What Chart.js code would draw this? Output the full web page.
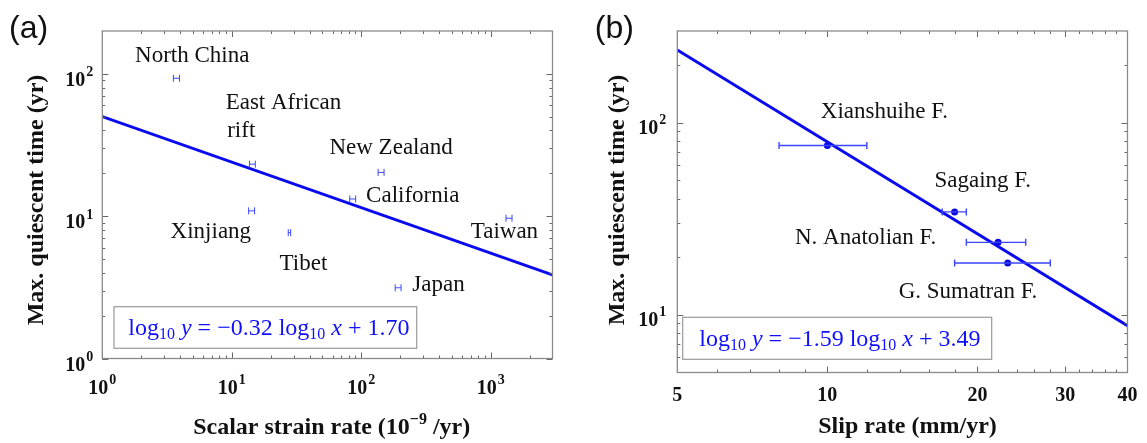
<!DOCTYPE html>
<html>
<head>
<meta charset="utf-8">
<script src="https://cdn.jsdelivr.net/npm/chart.js@4.4.1/dist/chart.umd.min.js"></script>
<style>
  body { margin: 0; background: #fff; }
  .panel { position: absolute; top: 0; }
  #wrapA { left: 0; width: 570px; height: 443px; }
  #wrapB { left: 570px; width: 577px; height: 443px; }
</style>
</head>
<body>
<div class="panel" id="wrapA"><canvas id="chartA" width="570" height="443"></canvas></div>
<div class="panel" id="wrapB"><canvas id="chartB" width="577" height="443"></canvas></div>
<script>
// ── (a) regions: strain rate vs max. quiescent time ──────────────────────
const regionNames = ['North China', 'East African rift', 'New Zealand', 'California', 'Xinjiang', 'Tibet', 'Taiwan', 'Japan'];
const strainRate  = [3.74, 14.4, 142, 85.9, 14.2, 27.9, 1384, 193];
const strainLo    = [3.54, 13.7, 135, 81.5, 13.5, 27.3, 1312, 183];
const strainHi    = [3.95, 15.2, 150, 90.5, 15.0, 28.5, 1460, 203];
const quietA      = [93.1, 23.2, 20.3, 13.2, 10.9, 7.66, 9.67, 3.14];
const fitA        = { slope: -0.32, icpt: 1.70 };
const aXRange = [1, 3000];
const aYRange = [1, 200];
const aXTicks = [1, 10, 100, 1000];
const aXTickExp = ['0', '1', '2', '3'];
const aYTicks = [1, 10, 100];
const aYTickExp = ['0', '1', '2'];

// ── (b) faults: slip rate vs max. quiescent time ─────────────────────────
const faultNames = ['Xianshuihe F.', 'Sagaing F.', 'N. Anatolian F.', 'G. Sumatran F.'];
const slipRate   = [10, 18.0, 22.0, 23.0];
const slipLo     = [8, 17, 19, 18];
const slipHi     = [12, 19, 25, 28];
const quietB     = [76, 34.3, 23.8, 18.6];
const fitB       = { slope: -1.59, icpt: 3.49 };
const bXRange = [5, 40];
const bYRange = [5, 300];
const bXTicks = [5, 10, 20, 30, 40];
const bXTickText = ['5', '10', '20', '30', '40'];
const bYTicks = [10, 100];
const bYTickExp = ['1', '2'];

const SERIF = '"Liberation Serif", "Times New Roman", serif';
const SANS  = '"Liberation Sans", Arial, sans-serif';
const BLUE  = '#1010ff';

// label anchors (left edge, vertical middle) in axis units
const regionLabelPos = [[1.79, 133], [8.97, 62.1], [56.8, 30.0], [109, 13.9], [3.37, 7.70], [23.4, 4.59], [701, 7.78], [248, 3.29]];
const faultLabelPos  = [[9.70, 114], [16.4, 49.7], [8.61, 25.0], [13.9, 13.2]];

function fitPoints(fit, xr) {
  return xr.map(x => ({ x, y: Math.pow(10, fit.icpt + fit.slope * Math.log10(x)) }));
}

function minorTicks(lo, hi, steps) {
  const out = [];
  for (let d = Math.pow(10, Math.floor(Math.log10(lo))); d <= hi; d *= 10) {
    steps.forEach(m => { const v = m * d; if (v > lo && v < hi) out.push(v); });
  }
  return out;
}

// "10" with a raised exponent
function drawPow(ctx, x, y, exp, align) {
  const big = `bold 20px ${SERIF}`, small = `bold 14px ${SERIF}`;
  ctx.font = big;   const wb = ctx.measureText('10').width;
  ctx.font = small; const we = ctx.measureText(exp).width;
  const w = wb + 1 + we;
  const x0 = align === 'center' ? x - w / 2 : x - w;
  ctx.textAlign = 'left';
  ctx.textBaseline = 'middle';
  ctx.font = big;   ctx.fillText('10', x0, y);
  ctx.font = small; ctx.fillText(exp, x0 + wb + 1, y - 8);
}

// consecutive text pieces, each with its own font and vertical shift
function drawRuns(ctx, x, y, runs, align) {
  ctx.textBaseline = 'middle';
  ctx.textAlign = 'left';
  const widths = runs.map(r => { ctx.font = r.font; return ctx.measureText(r.t).width; });
  const total = widths.reduce((s, w) => s + w, 0);
  let cx = align === 'center' ? x - total / 2 : x;
  runs.forEach((r, i) => {
    ctx.font = r.font;
    ctx.fillText(r.t, cx, y + (r.dy || 0));
    cx += widths[i];
  });
}

function eqRuns(fit) {
  const reg = `24px ${SERIF}`, it = `italic 24px ${SERIF}`, sub = `16px ${SERIF}`;
  const sign = fit.slope < 0 ? '\u2212' : '';
  return [
    { t: 'log', font: reg }, { t: '10', font: sub, dy: 6 }, { t: ' ', font: reg },
    { t: 'y', font: it }, { t: ' = ' + sign + Math.abs(fit.slope).toFixed(2) + ' log', font: reg },
    { t: '10', font: sub, dy: 6 }, { t: ' ', font: reg }, { t: 'x', font: it },
    { t: ' + ' + fit.icpt.toFixed(2), font: reg },
  ];
}

// horizontal error bars with small caps
const errorBarPlugin = {
  id: 'errorBars',
  afterDatasetsDraw(chart, args, o) {
    const { ctx, scales: { x, y } } = chart;
    ctx.save();
    ctx.strokeStyle = o.color;
    ctx.lineWidth = o.width;
    o.lo.forEach((lo, i) => {
      const py = y.getPixelForValue(o.yv[i]);
      const x1 = x.getPixelForValue(lo), x2 = x.getPixelForValue(o.hi[i]);
      ctx.beginPath();
      ctx.moveTo(x1, py); ctx.lineTo(x2, py);
      ctx.moveTo(x1, py - o.cap); ctx.lineTo(x1, py + o.cap);
      ctx.moveTo(x2, py - o.cap); ctx.lineTo(x2, py + o.cap);
      ctx.stroke();
    });
    ctx.restore();
  },
};

// box frame, inward ticks on all sides, tick labels, titles, annotations
const framePlugin = {
  id: 'frame',
  afterDraw(chart, args, o) {
    const { ctx, chartArea: a, scales: { x, y } } = chart;
    ctx.save();
    const seg = (x1, y1, x2, y2) => { ctx.beginPath(); ctx.moveTo(x1, y1); ctx.lineTo(x2, y2); ctx.stroke(); };
    ctx.strokeStyle = '#666';
    ctx.lineWidth = 1;
    const xt = (v, len) => { const p = Math.round(x.getPixelForValue(v)) + 0.5; seg(p, a.bottom, p, a.bottom - len); seg(p, a.top, p, a.top + len); };
    const yt = (v, len) => { const p = Math.round(y.getPixelForValue(v)) + 0.5; seg(a.left, p, a.left + len, p); seg(a.right, p, a.right - len, p); };
    o.xMinor.forEach(v => xt(v, 3));
    o.xMajor.forEach(v => xt(v, 6));
    o.yMinor.forEach(v => yt(v, 3));
    o.yMajor.forEach(v => yt(v, 6));
    ctx.strokeStyle = '#8a8a8a';
    ctx.lineWidth = 1.3;
    ctx.strokeRect(a.left, a.top, a.right - a.left, a.bottom - a.top);

    // equation box
    const b = o.eqBox;
    ctx.fillStyle = '#fff';
    ctx.fillRect(b[0], b[1], b[2] - b[0], b[3] - b[1]);
    ctx.strokeStyle = '#999';
    ctx.lineWidth = 1.2;
    ctx.strokeRect(b[0], b[1], b[2] - b[0], b[3] - b[1]);
    ctx.fillStyle = BLUE;
    drawRuns(ctx, o.eqText[0], o.eqText[1], eqRuns(o.fit), 'left');

    // tick labels
    ctx.fillStyle = '#111';
    o.xLabels(ctx, x, a);
    o.yLabels(ctx, y, a);

    // axis titles
    drawRuns(ctx, o.xTitle[0], o.xTitle[1], o.xTitleRuns, 'center');
    ctx.save();
    ctx.translate(o.yTitle[0], o.yTitle[1]);
    ctx.rotate(-Math.PI / 2);
    drawRuns(ctx, 0, 0, [{ t: 'Max. quiescent time (yr)', font: `bold 24px ${SERIF}` }], 'center');
    ctx.restore();

    // point names
    ctx.font = `23px ${SERIF}`;
    ctx.textAlign = 'left';
    ctx.textBaseline = 'middle';
    o.names.forEach(n => ctx.fillText(n.t, x.getPixelForValue(n.x), y.getPixelForValue(n.y)));

    // panel letter
    ctx.font = `32px ${SANS}`;
    ctx.fillText(o.letter[0], o.letter[1], o.letter[2]);
    ctx.restore();
  },
};

function makeChart(id, cfg) {
  return new Chart(document.getElementById(id), {
    type: 'scatter',
    data: { datasets: cfg.datasets },
    options: {
      responsive: false,
      animation: false,
      devicePixelRatio: 1,
      layout: { padding: cfg.padding },
      plugins: {
        legend: { display: false },
        tooltip: { enabled: false },
        errorBars: cfg.errorBars,
        frame: cfg.frame,
      },
      scales: {
        x: { type: 'logarithmic', min: cfg.xRange[0], max: cfg.xRange[1], display: false },
        y: { type: 'logarithmic', min: cfg.yRange[0], max: cfg.yRange[1], display: false },
      },
    },
    plugins: [errorBarPlugin, framePlugin],
  });
}

// ── panel (a) ───────────────────────────────────────────────────────────
makeChart('chartA', {
  padding: { left: 102.3, right: 17.5, top: 31, bottom: 84.5 },
  xRange: aXRange,
  yRange: aYRange,
  datasets: [
    { type: 'line', data: fitPoints(fitA, aXRange), borderColor: '#0a0aee', borderWidth: 3, pointRadius: 0 },
    { data: strainRate.map((x, i) => ({ x, y: quietA[i] })), pointRadius: 0 },
  ],
  errorBars: { lo: strainLo, hi: strainHi, yv: quietA, color: '#3a46ff', width: 1, cap: 3.5 },
  frame: {
    xMajor: aXTicks,
    xMinor: minorTicks(aXRange[0], aXRange[1], [2, 3, 4, 5, 6, 7, 8, 9]),
    yMajor: aYTicks,
    yMinor: minorTicks(aYRange[0], aYRange[1], [2, 3, 4, 5, 6, 7, 8, 9]),
    xLabels: (ctx, x, a) => aXTicks.forEach((v, i) => drawPow(ctx, x.getPixelForValue(v), a.bottom + 30, aXTickExp[i], 'center')),
    yLabels: (ctx, y, a) => aYTicks.forEach((v, i) => drawPow(ctx, a.left - 9, y.getPixelForValue(v) + 7, aYTickExp[i], 'right')),
    xTitle: [331.7, 428],
    xTitleRuns: [
      { t: 'Scalar strain rate (10', font: `bold 24px ${SERIF}` },
      { t: '\u22129', font: `bold 16px ${SERIF}`, dy: -8 },
      { t: ' /yr)', font: `bold 24px ${SERIF}` },
    ],
    yTitle: [36.7, 200],
    eqBox: [114, 306.7, 416.7, 348.3],
    eqText: [128.3, 329],
    fit: fitA,
    names: regionNames
      .map((t, i) => ({ t, x: regionLabelPos[i][0], y: regionLabelPos[i][1] }))
      .flatMap(n => n.t === 'East African rift'
        ? [{ t: 'East African', x: n.x, y: n.y }, { t: 'rift', x: 9.22, y: 39.4 }]
        : [n]),
    letter: ['(a)', 9, 29],
  },
});

// ── panel (b) ───────────────────────────────────────────────────────────
makeChart('chartB', {
  padding: { left: 107.3, right: 19.5, top: 31, bottom: 70.5 },
  xRange: bXRange,
  yRange: bYRange,
  datasets: [
    { type: 'line', data: fitPoints(fitB, bXRange), borderColor: '#0a0aee', borderWidth: 3, pointRadius: 0 },
    { data: slipRate.map((x, i) => ({ x, y: quietB[i] })), pointRadius: 3.5, backgroundColor: '#0a0ae0', borderWidth: 0 },
  ],
  errorBars: { lo: slipLo, hi: slipHi, yv: quietB, color: '#3a46ff', width: 1.4, cap: 3.5 },
  frame: {
    xMajor: [10, 20, 30],
    xMinor: [6, 7, 8, 9, 12, 14, 16, 18, 22, 24, 26, 28, 32, 34, 36, 38],
    yMajor: bYTicks,
    yMinor: minorTicks(bYRange[0], bYRange[1], [2, 3, 4, 5, 6, 7, 8, 9]),
    xLabels: (ctx, x, a) => bXTicks.forEach((v, i) => drawRuns(ctx, x.getPixelForValue(v), a.bottom + 23, [{ t: bXTickText[i], font: `bold 20px ${SERIF}` }], 'center')),
    yLabels: (ctx, y, a) => bYTicks.forEach((v, i) => drawPow(ctx, a.left - 11, y.getPixelForValue(v) + 6, bYTickExp[i], 'right')),
    xTitle: [337.5, 426.7],
    xTitleRuns: [{ t: 'Slip rate (mm/yr)', font: `bold 24px ${SERIF}` }],
    yTitle: [47.7, 200],
    eqBox: [112.7, 317.3, 421.7, 359.3],
    eqText: [129.3, 340],
    fit: fitB,
    names: faultNames.map((t, i) => ({ t, x: faultLabelPos[i][0], y: faultLabelPos[i][1] })),
    letter: ['(b)', 24.8, 29],
  },
});
</script>
</body>
</html>
